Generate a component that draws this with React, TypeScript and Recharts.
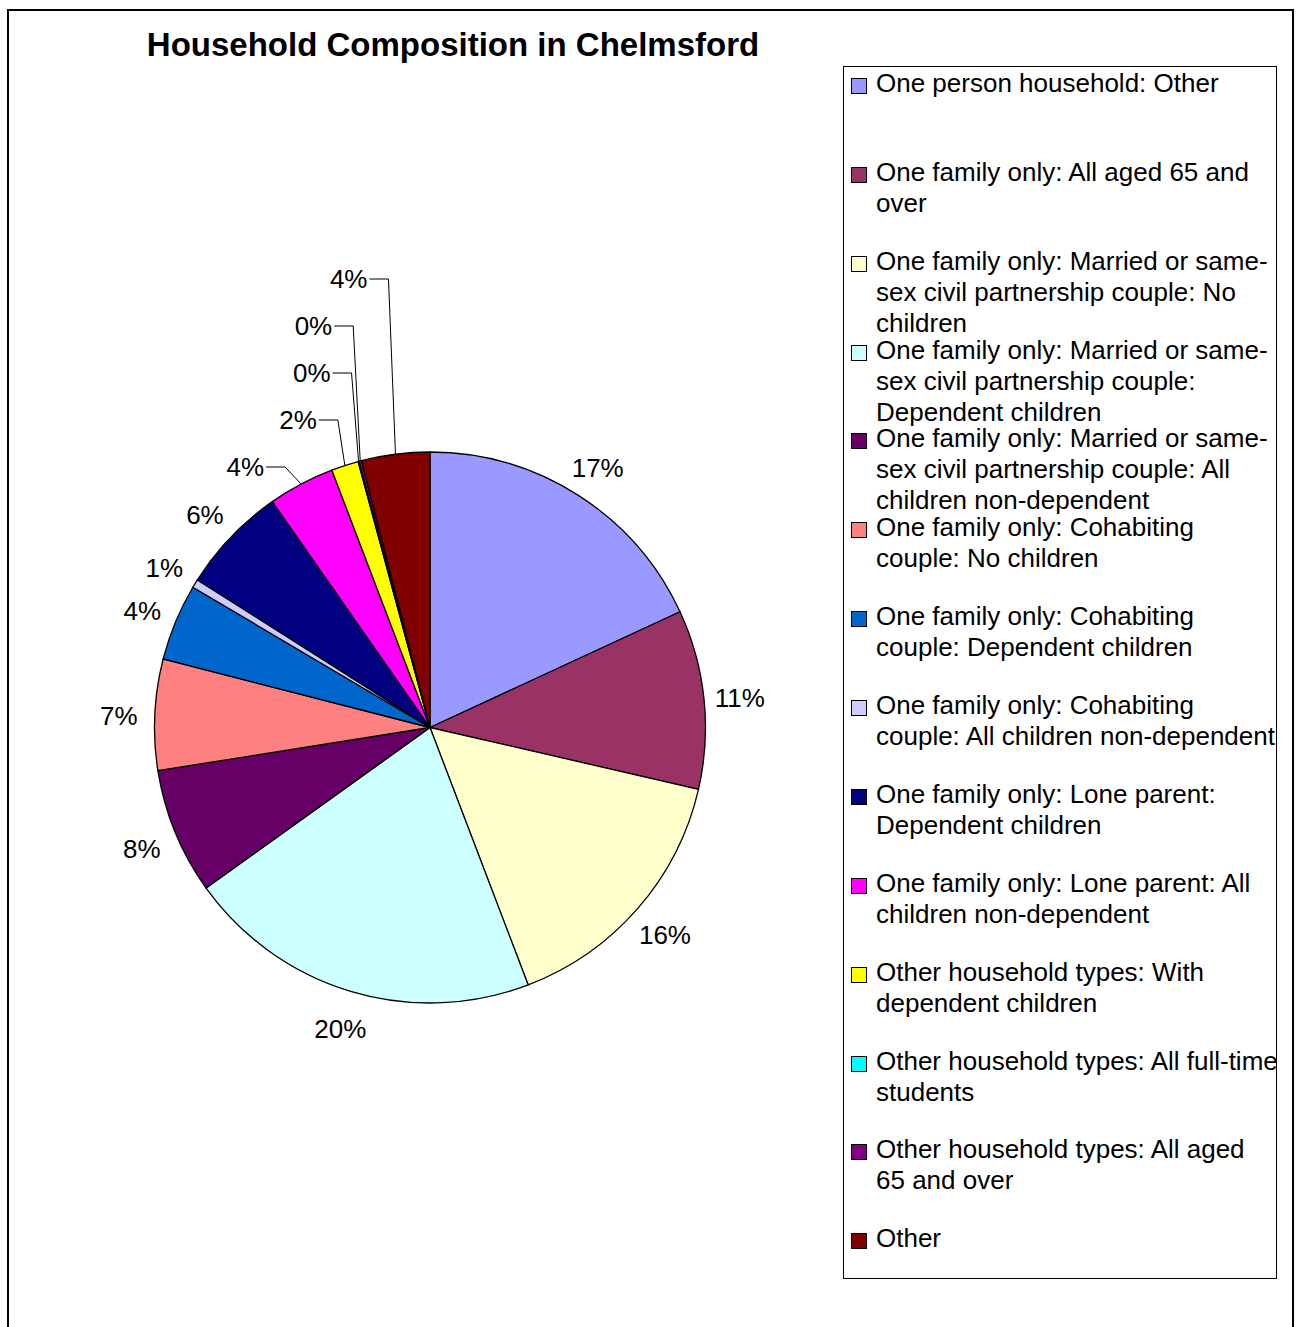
import React from 'react';
import { PieChart, Pie, Cell, Legend } from 'recharts';

const categories = [
  'One person household: Other',
  'One family only: All aged 65 and\nover',
  'One family only: Married or same-\nsex civil partnership couple: No\nchildren',
  'One family only: Married or same-\nsex civil partnership couple:\nDependent children',
  'One family only: Married or same-\nsex civil partnership couple: All\nchildren non-dependent',
  'One family only: Cohabiting\ncouple: No children',
  'One family only: Cohabiting\ncouple: Dependent children',
  'One family only: Cohabiting\ncouple: All children non-dependent',
  'One family only: Lone parent:\nDependent children',
  'One family only: Lone parent: All\nchildren non-dependent',
  'Other household types: With\ndependent children',
  'Other household types: All full-time\nstudents',
  'Other household types: All aged\n65 and over',
  'Other',
];

const shares = [18.1, 10.5, 15.6, 20.9, 7.4, 6.5, 4.5, 0.5, 6.3, 3.9, 1.6, 0.05, 0.15, 4.0];

const pctLabels = ['17%', '11%', '16%', '20%', '8%', '7%', '4%', '1%', '6%', '4%', '2%', '0%', '0%', '4%'];

const colors = [
  '#9999FF', '#993366', '#FFFFCC', '#CCFFFF', '#660066', '#FF8080', '#0066CC',
  '#CCCCFF', '#000080', '#FF00FF', '#FFFF00', '#00FFFF', '#800080', '#800000',
];

const FONT = '"Liberation Sans", Arial, sans-serif';
const RAD = Math.PI / 180;
const LEADER_FROM = 9;

const data = categories.map((name, i) => ({ name, value: shares[i], label: pctLabels[i] }));

const renderLabel = (props: any) => {
  const { cx, cy, midAngle, outerRadius, index } = props;
  const c = Math.cos(midAngle * RAD);
  const s = Math.sin(midAngle * RAD);
  const text = pctLabels[index];
  if (index >= LEADER_FROM) {
    const ex = cx + outerRadius * c;
    const ey = cy - outerRadius * s;
    const k = index - LEADER_FROM;
    const ly = cy - outerRadius + 15 - k * 47;
    const elbowX = k === 0 ? ex - 16 : ex - 7;
    return (
      <g key={`lbl-${index}`}>
        <polyline
          points={`${elbowX - 19},${ly} ${elbowX},${ly} ${ex},${ey}`}
          fill="none"
          stroke="#000"
          strokeWidth={1}
        />
        <text
          x={elbowX - 21}
          y={ly}
          textAnchor="end"
          dominantBaseline="central"
          fontFamily={FONT}
          fontSize={26}
          fill="#000"
        >
          {text}
        </text>
      </g>
    );
  }
  const r = outerRadius + 36;
  return (
    <text
      key={`lbl-${index}`}
      x={cx + r * c}
      y={cy - r * s + 3}
      textAnchor="middle"
      dominantBaseline="central"
      fontFamily={FONT}
      fontSize={26}
      fill="#000"
    >
      {text}
    </text>
  );
};

const LegendBox = () => {
  return (
    <div
      style={{
        position: 'relative',
        width: 434,
        height: 1213,
        border: '1px solid #000',
        boxSizing: 'border-box',
        background: '#fff',
        fontFamily: FONT,
        fontSize: 26,
        color: '#000',
      }}
    >
      {data.map((d, i) => (
        <div
          key={i}
          style={{ position: 'absolute', left: 0, top: 1 + i * 88.87, width: 432 }}
        >
          <div
            style={{
              position: 'absolute',
              left: 7,
              top: 10,
              width: 16,
              height: 16,
              boxSizing: 'border-box',
              border: '1px solid #000',
              background: colors[i],
            }}
          />
          <div style={{ position: 'absolute', left: 32, top: 0 }}>
            {d.name.split('\n').map((line: string, j: number) => (
              <div key={j} style={{ lineHeight: '31px', whiteSpace: 'nowrap' }}>
                {line}
              </div>
            ))}
          </div>
        </div>
      ))}
    </div>
  );
};

export default function App() {
  return (
    <>
      <style>{'html,body{overflow:hidden;}'}</style>
      <div
        style={{
          position: 'absolute',
          left: 7,
          top: 9,
          width: 1287,
          height: 1330,
          border: '2px solid #000',
          boxSizing: 'border-box',
          background: '#fff',
          overflow: 'hidden',
        }}
      >
        <div
          style={{
            position: 'absolute',
            left: 0,
            width: 888,
            top: 14,
            textAlign: 'center',
            fontFamily: FONT,
            fontWeight: 'bold',
            fontSize: 33,
            lineHeight: '40px',
            color: '#000',
          }}
        >
          Household Composition in Chelmsford
        </div>
        <PieChart
          width={1283}
          height={1326}
          margin={{ top: 0, right: 0, bottom: 0, left: 0 }}
          style={{ position: 'absolute', left: 0, top: 0 }}
        >
          <Pie
            data={data}
            dataKey="value"
            nameKey="name"
            cx={421}
            cy={716.5}
            outerRadius={275.5}
            startAngle={90}
            endAngle={-270}
            stroke="#000"
            strokeWidth={1.3}
            label={renderLabel}
            labelLine={false}
            isAnimationActive={false}
          >
            {data.map((d, i) => (
              <Cell key={d.name} fill={colors[i]} />
            ))}
          </Pie>
          <Legend
            layout="vertical"
            align="center"
            verticalAlign="middle"
            content={<LegendBox />}
            wrapperStyle={{ position: 'absolute', left: 834, top: 55, width: 434, height: 1213, margin: 0 }}
          />
        </PieChart>
      </div>
    </>
  );
}
